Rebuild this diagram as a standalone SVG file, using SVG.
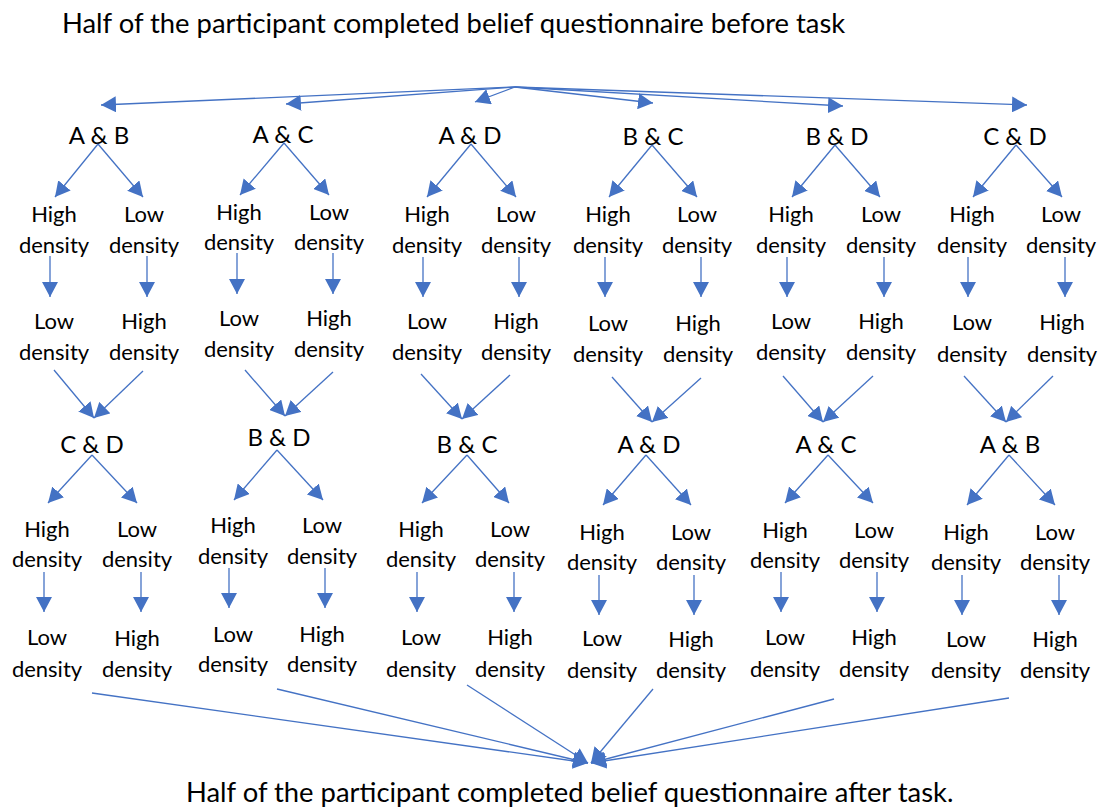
<svg xmlns="http://www.w3.org/2000/svg" width="1100" height="807" viewBox="0 0 1100 807">
  <style>
    text { font-family: Lato, "Liberation Sans", sans-serif; fill: #000; text-anchor: middle; }
    .title { font-size: 27.4px; text-anchor: start; }
    .pair { font-size: 24px; }
    .lvl { font-size: 22px; }
    .conn line { stroke: #4472C4; stroke-width: 1.3; fill: none; marker-end: url(#head); }
  </style>
  <defs>
    <marker id="head" markerUnits="userSpaceOnUse" markerWidth="16" markerHeight="16" refX="15" refY="8" orient="auto">
      <path d="M0,0 L15,8 L0,16 z" fill="#4472C4"/>
    </marker>
  </defs>

  <!-- titles -->
  <g id="start-note"><text class="title" x="62" y="33">Half of the participant completed belief questionnaire before task</text></g>
  <g id="end-note"><text class="title" x="186" y="802">Half of the participant completed belief questionnaire after task.</text></g>

  <!-- first pairing -->
  <g id="c1-pair1"><text class="pair" x="99" y="144">A &amp; B</text></g>
  <g id="c2-pair1"><text class="pair" x="283" y="143">A &amp; C</text></g>
  <g id="c3-pair1"><text class="pair" x="470" y="144">A &amp; D</text></g>
  <g id="c4-pair1"><text class="pair" x="653" y="145">B &amp; C</text></g>
  <g id="c5-pair1"><text class="pair" x="837" y="145">B &amp; D</text></g>
  <g id="c6-pair1"><text class="pair" x="1015" y="145">C &amp; D</text></g>

  <!-- first pairing, first block -->
  <g id="c1-r1-l"><text class="lvl" x="54" y="222">High<tspan x="54" y="253">density</tspan></text></g>
  <g id="c1-r1-r"><text class="lvl" x="144" y="222">Low<tspan x="144" y="253">density</tspan></text></g>
  <g id="c2-r1-l"><text class="lvl" x="239" y="220">High<tspan x="239" y="250">density</tspan></text></g>
  <g id="c2-r1-r"><text class="lvl" x="329" y="220">Low<tspan x="329" y="250">density</tspan></text></g>
  <g id="c3-r1-l"><text class="lvl" x="427" y="222">High<tspan x="427" y="253">density</tspan></text></g>
  <g id="c3-r1-r"><text class="lvl" x="516" y="222">Low<tspan x="516" y="253">density</tspan></text></g>
  <g id="c4-r1-l"><text class="lvl" x="608" y="222">High<tspan x="608" y="253">density</tspan></text></g>
  <g id="c4-r1-r"><text class="lvl" x="697" y="222">Low<tspan x="697" y="253">density</tspan></text></g>
  <g id="c5-r1-l"><text class="lvl" x="791" y="222">High<tspan x="791" y="253">density</tspan></text></g>
  <g id="c5-r1-r"><text class="lvl" x="881" y="222">Low<tspan x="881" y="253">density</tspan></text></g>
  <g id="c6-r1-l"><text class="lvl" x="972" y="222">High<tspan x="972" y="253">density</tspan></text></g>
  <g id="c6-r1-r"><text class="lvl" x="1061" y="222">Low<tspan x="1061" y="253">density</tspan></text></g>

  <!-- first pairing, second block -->
  <g id="c1-r2-l"><text class="lvl" x="54" y="329">Low<tspan x="54" y="360">density</tspan></text></g>
  <g id="c1-r2-r"><text class="lvl" x="144" y="329">High<tspan x="144" y="360">density</tspan></text></g>
  <g id="c2-r2-l"><text class="lvl" x="239" y="326">Low<tspan x="239" y="357">density</tspan></text></g>
  <g id="c2-r2-r"><text class="lvl" x="329" y="326">High<tspan x="329" y="357">density</tspan></text></g>
  <g id="c3-r2-l"><text class="lvl" x="427" y="329">Low<tspan x="427" y="360">density</tspan></text></g>
  <g id="c3-r2-r"><text class="lvl" x="516" y="329">High<tspan x="516" y="360">density</tspan></text></g>
  <g id="c4-r2-l"><text class="lvl" x="608" y="331">Low<tspan x="608" y="362">density</tspan></text></g>
  <g id="c4-r2-r"><text class="lvl" x="698" y="331">High<tspan x="698" y="362">density</tspan></text></g>
  <g id="c5-r2-l"><text class="lvl" x="791" y="329">Low<tspan x="791" y="360">density</tspan></text></g>
  <g id="c5-r2-r"><text class="lvl" x="881" y="329">High<tspan x="881" y="360">density</tspan></text></g>
  <g id="c6-r2-l"><text class="lvl" x="972" y="330">Low<tspan x="972" y="362">density</tspan></text></g>
  <g id="c6-r2-r"><text class="lvl" x="1062" y="330">High<tspan x="1062" y="362">density</tspan></text></g>

  <!-- second pairing -->
  <g id="c1-pair2"><text class="pair" x="92" y="453">C &amp; D</text></g>
  <g id="c2-pair2"><text class="pair" x="279" y="446">B &amp; D</text></g>
  <g id="c3-pair2"><text class="pair" x="467" y="453">B &amp; C</text></g>
  <g id="c4-pair2"><text class="pair" x="649" y="453">A &amp; D</text></g>
  <g id="c5-pair2"><text class="pair" x="826" y="453">A &amp; C</text></g>
  <g id="c6-pair2"><text class="pair" x="1010" y="453">A &amp; B</text></g>

  <!-- second pairing, first block -->
  <g id="c1-r3-l"><text class="lvl" x="47" y="537">High<tspan x="47" y="567">density</tspan></text></g>
  <g id="c1-r3-r"><text class="lvl" x="137" y="537">Low<tspan x="137" y="567">density</tspan></text></g>
  <g id="c2-r3-l"><text class="lvl" x="233" y="533">High<tspan x="233" y="564">density</tspan></text></g>
  <g id="c2-r3-r"><text class="lvl" x="322" y="533">Low<tspan x="322" y="564">density</tspan></text></g>
  <g id="c3-r3-l"><text class="lvl" x="421" y="537">High<tspan x="421" y="567">density</tspan></text></g>
  <g id="c3-r3-r"><text class="lvl" x="510" y="537">Low<tspan x="510" y="567">density</tspan></text></g>
  <g id="c4-r3-l"><text class="lvl" x="602" y="540">High<tspan x="602" y="570">density</tspan></text></g>
  <g id="c4-r3-r"><text class="lvl" x="691" y="540">Low<tspan x="691" y="570">density</tspan></text></g>
  <g id="c5-r3-l"><text class="lvl" x="785" y="538">High<tspan x="785" y="568">density</tspan></text></g>
  <g id="c5-r3-r"><text class="lvl" x="874" y="538">Low<tspan x="874" y="568">density</tspan></text></g>
  <g id="c6-r3-l"><text class="lvl" x="966" y="540">High<tspan x="966" y="570">density</tspan></text></g>
  <g id="c6-r3-r"><text class="lvl" x="1055" y="540">Low<tspan x="1055" y="570">density</tspan></text></g>

  <!-- second pairing, second block -->
  <g id="c1-r4-l"><text class="lvl" x="47" y="645">Low<tspan x="47" y="677">density</tspan></text></g>
  <g id="c1-r4-r"><text class="lvl" x="137" y="646">High<tspan x="137" y="677">density</tspan></text></g>
  <g id="c2-r4-l"><text class="lvl" x="233" y="642">Low<tspan x="233" y="672">density</tspan></text></g>
  <g id="c2-r4-r"><text class="lvl" x="322" y="642">High<tspan x="322" y="672">density</tspan></text></g>
  <g id="c3-r4-l"><text class="lvl" x="421" y="645">Low<tspan x="421" y="677">density</tspan></text></g>
  <g id="c3-r4-r"><text class="lvl" x="510" y="645">High<tspan x="510" y="677">density</tspan></text></g>
  <g id="c4-r4-l"><text class="lvl" x="602" y="646">Low<tspan x="602" y="678">density</tspan></text></g>
  <g id="c4-r4-r"><text class="lvl" x="691" y="647">High<tspan x="691" y="678">density</tspan></text></g>
  <g id="c5-r4-l"><text class="lvl" x="785" y="645">Low<tspan x="785" y="677">density</tspan></text></g>
  <g id="c5-r4-r"><text class="lvl" x="874" y="645">High<tspan x="874" y="677">density</tspan></text></g>
  <g id="c6-r4-l"><text class="lvl" x="966" y="647">Low<tspan x="966" y="678">density</tspan></text></g>
  <g id="c6-r4-r"><text class="lvl" x="1055" y="647">High<tspan x="1055" y="678">density</tspan></text></g>

  <!-- connectors -->
  <g id="connectors" class="conn">
    <!-- fan-out from the opening note -->
    <line x1="515" y1="87" x2="101" y2="105"/>
    <line x1="515" y1="87" x2="286" y2="104"/>
    <line x1="515" y1="87" x2="475" y2="102"/>
    <line x1="515" y1="87" x2="653" y2="103"/>
    <line x1="515" y1="87" x2="843" y2="106"/>
    <line x1="515" y1="87" x2="1027" y2="105"/>

    <!-- first pairing splits -->
    <line x1="98" y1="144" x2="55" y2="197"/>
    <line x1="98" y1="144" x2="143" y2="197"/>
    <line x1="284" y1="143" x2="240" y2="195"/>
    <line x1="284" y1="143" x2="329" y2="195"/>
    <line x1="471" y1="144" x2="427" y2="197"/>
    <line x1="471" y1="144" x2="516" y2="197"/>
    <line x1="652" y1="145" x2="609" y2="197"/>
    <line x1="652" y1="145" x2="697" y2="197"/>
    <line x1="835" y1="145" x2="792" y2="197"/>
    <line x1="835" y1="145" x2="880" y2="197"/>
    <line x1="1016" y1="145" x2="973" y2="197"/>
    <line x1="1016" y1="145" x2="1062" y2="197"/>

    <!-- density switches, first pairing -->
    <line x1="50" y1="256" x2="50" y2="297"/>
    <line x1="147" y1="256" x2="147" y2="297"/>
    <line x1="237" y1="253" x2="237" y2="294"/>
    <line x1="333" y1="253" x2="333" y2="294"/>
    <line x1="423" y1="257" x2="423" y2="297"/>
    <line x1="519" y1="257" x2="519" y2="297"/>
    <line x1="605" y1="257" x2="605" y2="297"/>
    <line x1="701" y1="257" x2="701" y2="297"/>
    <line x1="787" y1="257" x2="787" y2="297"/>
    <line x1="884" y1="257" x2="884" y2="297"/>
    <line x1="968" y1="257" x2="968" y2="297"/>
    <line x1="1065" y1="257" x2="1065" y2="297"/>

    <!-- merges into the second pairing -->
    <line x1="54" y1="370" x2="94" y2="418"/>
    <line x1="143" y1="371" x2="94" y2="418"/>
    <line x1="245" y1="370" x2="285" y2="416"/>
    <line x1="333" y1="372" x2="285" y2="416"/>
    <line x1="421" y1="374" x2="462" y2="419"/>
    <line x1="510" y1="375" x2="462" y2="419"/>
    <line x1="612" y1="377" x2="652" y2="422"/>
    <line x1="701" y1="378" x2="652" y2="422"/>
    <line x1="783" y1="376" x2="823" y2="422"/>
    <line x1="873" y1="376" x2="823" y2="422"/>
    <line x1="964" y1="376" x2="1006" y2="422"/>
    <line x1="1053" y1="376" x2="1006" y2="422"/>

    <!-- second pairing splits -->
    <line x1="92" y1="455" x2="48" y2="503"/>
    <line x1="92" y1="455" x2="137" y2="503"/>
    <line x1="277" y1="450" x2="234" y2="500"/>
    <line x1="277" y1="450" x2="323" y2="500"/>
    <line x1="467" y1="455" x2="422" y2="503"/>
    <line x1="467" y1="455" x2="509" y2="503"/>
    <line x1="646" y1="455" x2="603" y2="505"/>
    <line x1="646" y1="455" x2="691" y2="505"/>
    <line x1="828" y1="455" x2="785" y2="503"/>
    <line x1="828" y1="455" x2="873" y2="503"/>
    <line x1="1009" y1="455" x2="967" y2="505"/>
    <line x1="1009" y1="455" x2="1055" y2="505"/>

    <!-- density switches, second pairing -->
    <line x1="44" y1="572" x2="44" y2="612"/>
    <line x1="141" y1="572" x2="141" y2="612"/>
    <line x1="229" y1="568" x2="229" y2="608"/>
    <line x1="325" y1="568" x2="325" y2="608"/>
    <line x1="417" y1="572" x2="417" y2="612"/>
    <line x1="514" y1="572" x2="514" y2="612"/>
    <line x1="599" y1="575" x2="599" y2="615"/>
    <line x1="694" y1="575" x2="694" y2="615"/>
    <line x1="781" y1="572" x2="781" y2="612"/>
    <line x1="877" y1="572" x2="877" y2="612"/>
    <line x1="962" y1="575" x2="962" y2="615"/>
    <line x1="1059" y1="575" x2="1059" y2="615"/>

    <!-- fan-in to the closing note -->
    <line x1="92" y1="693" x2="588" y2="763"/>
    <line x1="277" y1="689" x2="588" y2="763"/>
    <line x1="467" y1="685" x2="588" y2="763"/>
    <line x1="653" y1="689" x2="591" y2="763"/>
    <line x1="834" y1="699" x2="591" y2="763"/>
    <line x1="1009" y1="698" x2="591" y2="763"/>
  </g>
</svg>
